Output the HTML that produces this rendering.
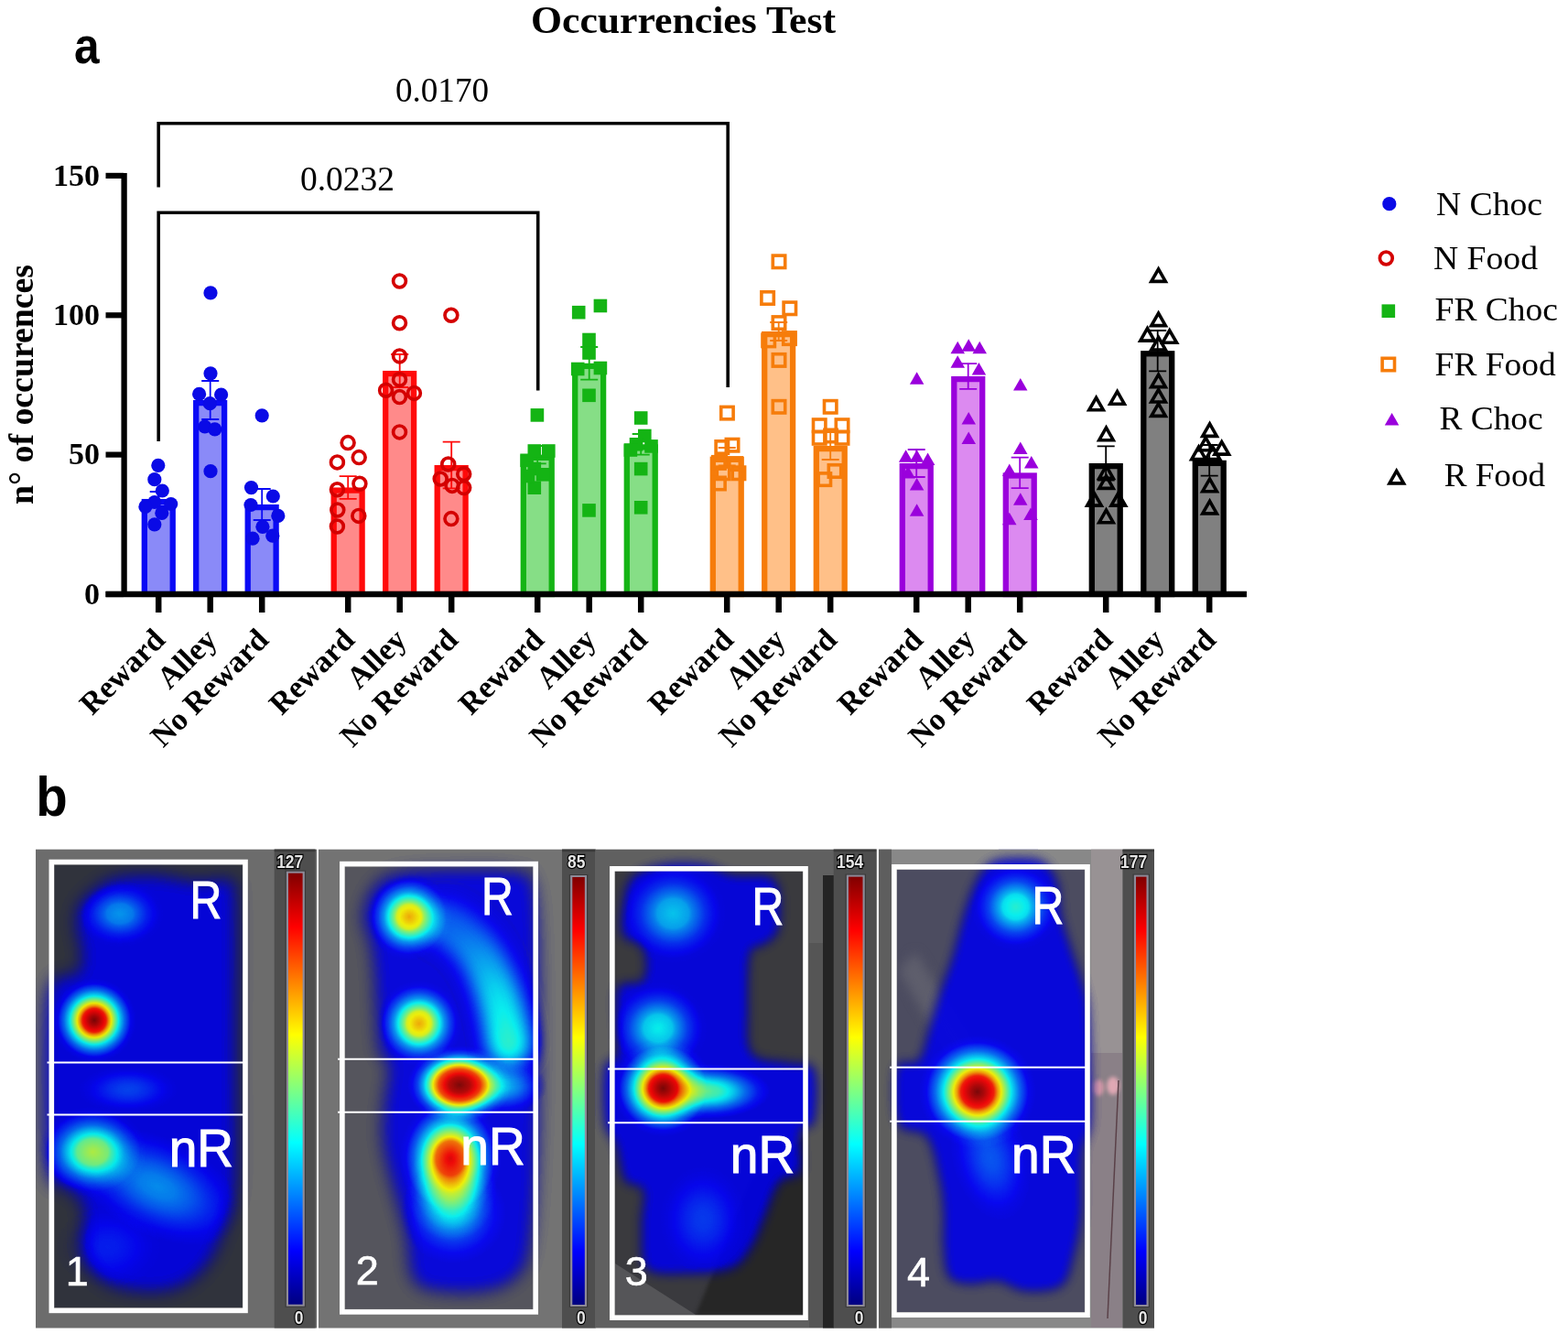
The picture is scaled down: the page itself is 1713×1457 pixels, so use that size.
<!DOCTYPE html>
<html><head><meta charset="utf-8"><title>Occurrencies Test</title>
<style>
html,body{margin:0;padding:0;background:#fff;}
body{width:1713px;height:1457px;overflow:hidden;}
svg{display:block;}
.serif{font-family:'Liberation Serif', 'Times New Roman', serif;}
.sans{font-family:'Liberation Sans', Arial, sans-serif;}
</style></head><body>
<svg width="1713" height="1457" viewBox="0 0 1713 1457">
<defs>
</defs>
<rect x="0" y="0" width="1713" height="1457" fill="#ffffff"/>
<text x="580" y="35.5" font-family="'Liberation Serif', 'Times New Roman', serif" font-weight="bold" font-size="42" textLength="333" lengthAdjust="spacingAndGlyphs">Occurrencies Test</text>
<text transform="translate(81,68.7) scale(0.886,1)" font-family="'Liberation Sans', Arial, sans-serif" font-weight="bold" font-size="56">a</text>
<line x1="135.6" y1="189" x2="135.6" y2="652" stroke="#000" stroke-width="6.3"/>
<line x1="115.5" y1="649.0" x2="135" y2="649.0" stroke="#000" stroke-width="6.2"/>
<text x="109" y="659.8" text-anchor="end" font-family="'Liberation Serif', 'Times New Roman', serif" font-weight="bold" font-size="34">0</text>
<line x1="115.5" y1="496.6" x2="135" y2="496.6" stroke="#000" stroke-width="6.2"/>
<text x="109" y="507.4" text-anchor="end" font-family="'Liberation Serif', 'Times New Roman', serif" font-weight="bold" font-size="34">50</text>
<line x1="115.5" y1="344.3" x2="135" y2="344.3" stroke="#000" stroke-width="6.2"/>
<text x="109" y="355.1" text-anchor="end" font-family="'Liberation Serif', 'Times New Roman', serif" font-weight="bold" font-size="34">100</text>
<line x1="115.5" y1="191.9" x2="135" y2="191.9" stroke="#000" stroke-width="6.2"/>
<text x="109" y="202.8" text-anchor="end" font-family="'Liberation Serif', 'Times New Roman', serif" font-weight="bold" font-size="34">150</text>
<text transform="translate(35.5,551) rotate(-90)" font-family="'Liberation Serif', 'Times New Roman', serif" font-weight="bold" font-size="38" textLength="262" lengthAdjust="spacingAndGlyphs">n° of occurences</text>
<rect x="157.8" y="548.1" width="30.9" height="100.8" fill="#8a8af8" stroke="#0a0af5" stroke-width="6.3"/>
<rect x="214.2" y="440.1" width="30.9" height="208.8" fill="#8a8af8" stroke="#0a0af5" stroke-width="6.3"/>
<rect x="270.7" y="554.1" width="30.9" height="94.8" fill="#8a8af8" stroke="#0a0af5" stroke-width="6.3"/>
<path d="M173.2,537.0V553.0M163.7,537.0H182.7M163.7,553.0H182.7" stroke="#0a0af5" stroke-width="1.8" fill="none"/>
<path d="M229.7,416.0V458.0M220.2,416.0H239.2M220.2,458.0H239.2" stroke="#0a0af5" stroke-width="1.8" fill="none"/>
<path d="M286.2,534.0V568.0M276.7,534.0H295.7M276.7,568.0H295.7" stroke="#0a0af5" stroke-width="1.8" fill="none"/>
<circle cx="172.8" cy="508.3" r="7.6" fill="#0a0ae6"/>
<circle cx="168.8" cy="523.7" r="7.6" fill="#0a0ae6"/>
<circle cx="177.3" cy="536.0" r="7.6" fill="#0a0ae6"/>
<circle cx="168.8" cy="548.5" r="7.6" fill="#0a0ae6"/>
<circle cx="158.9" cy="553.4" r="7.6" fill="#0a0ae6"/>
<circle cx="186.7" cy="550.5" r="7.6" fill="#0a0ae6"/>
<circle cx="176.8" cy="560.4" r="7.6" fill="#0a0ae6"/>
<circle cx="168.8" cy="572.8" r="7.6" fill="#0a0ae6"/>
<circle cx="230.0" cy="319.9" r="7.6" fill="#0a0ae6"/>
<circle cx="230.0" cy="407.8" r="7.6" fill="#0a0ae6"/>
<circle cx="217.6" cy="430.4" r="7.6" fill="#0a0ae6"/>
<circle cx="241.6" cy="431.0" r="7.6" fill="#0a0ae6"/>
<circle cx="229.3" cy="440.7" r="7.6" fill="#0a0ae6"/>
<circle cx="223.8" cy="466.0" r="7.6" fill="#0a0ae6"/>
<circle cx="234.7" cy="468.9" r="7.6" fill="#0a0ae6"/>
<circle cx="230.0" cy="514.7" r="7.6" fill="#0a0ae6"/>
<circle cx="286.2" cy="453.8" r="7.6" fill="#0a0ae6"/>
<circle cx="274.5" cy="532.6" r="7.6" fill="#0a0ae6"/>
<circle cx="298.3" cy="542.0" r="7.6" fill="#0a0ae6"/>
<circle cx="274.0" cy="551.5" r="7.6" fill="#0a0ae6"/>
<circle cx="303.8" cy="563.4" r="7.6" fill="#0a0ae6"/>
<circle cx="286.9" cy="575.3" r="7.6" fill="#0a0ae6"/>
<circle cx="276.0" cy="588.2" r="7.6" fill="#0a0ae6"/>
<circle cx="297.8" cy="585.2" r="7.6" fill="#0a0ae6"/>
<line x1="173.2" y1="649.0" x2="173.2" y2="669" stroke="#000" stroke-width="6.5"/>
<text transform="translate(182.2,700.7) rotate(-45)" text-anchor="end" font-family="'Liberation Serif', 'Times New Roman', serif" font-weight="bold" font-size="34">Reward</text>
<line x1="229.7" y1="649.0" x2="229.7" y2="669" stroke="#000" stroke-width="6.5"/>
<text transform="translate(238.7,700.7) rotate(-45)" text-anchor="end" font-family="'Liberation Serif', 'Times New Roman', serif" font-weight="bold" font-size="34">Alley</text>
<line x1="286.2" y1="649.0" x2="286.2" y2="669" stroke="#000" stroke-width="6.5"/>
<text transform="translate(295.2,700.7) rotate(-45)" text-anchor="end" font-family="'Liberation Serif', 'Times New Roman', serif" font-weight="bold" font-size="34">No Reward</text>
<rect x="364.7" y="535.6" width="30.9" height="113.3" fill="#ff8a8a" stroke="#ff0a0a" stroke-width="6.3"/>
<rect x="421.2" y="408.1" width="30.9" height="240.8" fill="#ff8a8a" stroke="#ff0a0a" stroke-width="6.3"/>
<rect x="477.7" y="511.1" width="30.9" height="137.8" fill="#ff8a8a" stroke="#ff0a0a" stroke-width="6.3"/>
<path d="M380.2,520.2V544.8M370.7,520.2H389.7M370.7,544.8H389.7" stroke="#ff0a0a" stroke-width="1.8" fill="none"/>
<path d="M436.7,387.0V423.0M427.2,387.0H446.2M427.2,423.0H446.2" stroke="#ff0a0a" stroke-width="1.8" fill="none"/>
<path d="M493.2,482.6V533.4M483.7,482.6H502.7M483.7,533.4H502.7" stroke="#ff0a0a" stroke-width="1.8" fill="none"/>
<circle cx="380.1" cy="483.6" r="6.9" fill="none" stroke="#d40000" stroke-width="3.7"/>
<circle cx="368.4" cy="504.9" r="6.9" fill="none" stroke="#d40000" stroke-width="3.7"/>
<circle cx="392.2" cy="499.6" r="6.9" fill="none" stroke="#d40000" stroke-width="3.7"/>
<circle cx="392.9" cy="528.3" r="6.9" fill="none" stroke="#d40000" stroke-width="3.7"/>
<circle cx="368.4" cy="534.7" r="6.9" fill="none" stroke="#d40000" stroke-width="3.7"/>
<circle cx="368.8" cy="557.0" r="6.9" fill="none" stroke="#d40000" stroke-width="3.7"/>
<circle cx="391.8" cy="563.4" r="6.9" fill="none" stroke="#d40000" stroke-width="3.7"/>
<circle cx="368.4" cy="575.0" r="6.9" fill="none" stroke="#d40000" stroke-width="3.7"/>
<circle cx="436.5" cy="307.0" r="6.9" fill="none" stroke="#d40000" stroke-width="3.7"/>
<circle cx="436.5" cy="352.8" r="6.9" fill="none" stroke="#d40000" stroke-width="3.7"/>
<circle cx="436.5" cy="388.9" r="6.9" fill="none" stroke="#d40000" stroke-width="3.7"/>
<circle cx="436.5" cy="414.5" r="6.9" fill="none" stroke="#d40000" stroke-width="3.7"/>
<circle cx="421.6" cy="426.2" r="6.9" fill="none" stroke="#d40000" stroke-width="3.7"/>
<circle cx="452.4" cy="429.4" r="6.9" fill="none" stroke="#d40000" stroke-width="3.7"/>
<circle cx="436.5" cy="433.6" r="6.9" fill="none" stroke="#d40000" stroke-width="3.7"/>
<circle cx="436.5" cy="471.9" r="6.9" fill="none" stroke="#d40000" stroke-width="3.7"/>
<circle cx="492.9" cy="344.3" r="6.9" fill="none" stroke="#d40000" stroke-width="3.7"/>
<circle cx="489.7" cy="507.0" r="6.9" fill="none" stroke="#d40000" stroke-width="3.7"/>
<circle cx="481.2" cy="523.0" r="6.9" fill="none" stroke="#d40000" stroke-width="3.7"/>
<circle cx="506.7" cy="517.7" r="6.9" fill="none" stroke="#d40000" stroke-width="3.7"/>
<circle cx="494.0" cy="530.4" r="6.9" fill="none" stroke="#d40000" stroke-width="3.7"/>
<circle cx="506.7" cy="532.6" r="6.9" fill="none" stroke="#d40000" stroke-width="3.7"/>
<circle cx="492.9" cy="566.6" r="6.9" fill="none" stroke="#d40000" stroke-width="3.7"/>
<line x1="380.2" y1="649.0" x2="380.2" y2="669" stroke="#000" stroke-width="6.5"/>
<text transform="translate(389.2,700.7) rotate(-45)" text-anchor="end" font-family="'Liberation Serif', 'Times New Roman', serif" font-weight="bold" font-size="34">Reward</text>
<line x1="436.7" y1="649.0" x2="436.7" y2="669" stroke="#000" stroke-width="6.5"/>
<text transform="translate(445.7,700.7) rotate(-45)" text-anchor="end" font-family="'Liberation Serif', 'Times New Roman', serif" font-weight="bold" font-size="34">Alley</text>
<line x1="493.2" y1="649.0" x2="493.2" y2="669" stroke="#000" stroke-width="6.5"/>
<text transform="translate(502.2,700.7) rotate(-45)" text-anchor="end" font-family="'Liberation Serif', 'Times New Roman', serif" font-weight="bold" font-size="34">No Reward</text>
<rect x="571.8" y="499.8" width="30.9" height="149.2" fill="#86de86" stroke="#14b414" stroke-width="6.3"/>
<rect x="628.2" y="399.9" width="30.9" height="249.0" fill="#86de86" stroke="#14b414" stroke-width="6.3"/>
<rect x="684.8" y="488.4" width="30.9" height="160.5" fill="#86de86" stroke="#14b414" stroke-width="6.3"/>
<path d="M587.2,487.0V506.4M577.7,487.0H596.7M577.7,506.4H596.7" stroke="#14b414" stroke-width="1.8" fill="none"/>
<path d="M643.7,379.0V414.6M634.2,379.0H653.2M634.2,414.6H653.2" stroke="#14b414" stroke-width="1.8" fill="none"/>
<path d="M700.2,474.0V496.6M690.7,474.0H709.7M690.7,496.6H709.7" stroke="#14b414" stroke-width="1.8" fill="none"/>
<rect x="579.6" y="446.1" width="14.6" height="14.6" fill="#14b414"/>
<rect x="576.5" y="485.2" width="14.6" height="14.6" fill="#14b414"/>
<rect x="592.0" y="485.2" width="14.6" height="14.6" fill="#14b414"/>
<rect x="568.3" y="495.5" width="14.6" height="14.6" fill="#14b414"/>
<rect x="576.5" y="504.7" width="14.6" height="14.6" fill="#14b414"/>
<rect x="585.7" y="511.0" width="14.6" height="14.6" fill="#14b414"/>
<rect x="576.5" y="525.4" width="14.6" height="14.6" fill="#14b414"/>
<rect x="569.7" y="512.7" width="14.6" height="14.6" fill="#14b414"/>
<rect x="624.9" y="333.9" width="14.6" height="14.6" fill="#14b414"/>
<rect x="648.6" y="326.7" width="14.6" height="14.6" fill="#14b414"/>
<rect x="636.2" y="363.7" width="14.6" height="14.6" fill="#14b414"/>
<rect x="636.2" y="378.2" width="14.6" height="14.6" fill="#14b414"/>
<rect x="623.9" y="395.7" width="14.6" height="14.6" fill="#14b414"/>
<rect x="648.6" y="394.7" width="14.6" height="14.6" fill="#14b414"/>
<rect x="636.2" y="424.5" width="14.6" height="14.6" fill="#14b414"/>
<rect x="636.2" y="550.1" width="14.6" height="14.6" fill="#14b414"/>
<rect x="692.9" y="449.2" width="14.6" height="14.6" fill="#14b414"/>
<rect x="697.0" y="468.7" width="14.6" height="14.6" fill="#14b414"/>
<rect x="687.7" y="478.0" width="14.6" height="14.6" fill="#14b414"/>
<rect x="704.2" y="480.1" width="14.6" height="14.6" fill="#14b414"/>
<rect x="681.6" y="484.2" width="14.6" height="14.6" fill="#14b414"/>
<rect x="692.9" y="504.8" width="14.6" height="14.6" fill="#14b414"/>
<rect x="692.9" y="547.0" width="14.6" height="14.6" fill="#14b414"/>
<line x1="587.2" y1="649.0" x2="587.2" y2="669" stroke="#000" stroke-width="6.5"/>
<text transform="translate(596.2,700.7) rotate(-45)" text-anchor="end" font-family="'Liberation Serif', 'Times New Roman', serif" font-weight="bold" font-size="34">Reward</text>
<line x1="643.7" y1="649.0" x2="643.7" y2="669" stroke="#000" stroke-width="6.5"/>
<text transform="translate(652.7,700.7) rotate(-45)" text-anchor="end" font-family="'Liberation Serif', 'Times New Roman', serif" font-weight="bold" font-size="34">Alley</text>
<line x1="700.2" y1="649.0" x2="700.2" y2="669" stroke="#000" stroke-width="6.5"/>
<text transform="translate(709.2,700.7) rotate(-45)" text-anchor="end" font-family="'Liberation Serif', 'Times New Roman', serif" font-weight="bold" font-size="34">No Reward</text>
<rect x="778.8" y="501.8" width="30.9" height="147.2" fill="#ffc088" stroke="#f67c0a" stroke-width="6.3"/>
<rect x="835.2" y="365.1" width="30.9" height="283.9" fill="#ffc088" stroke="#f67c0a" stroke-width="6.3"/>
<rect x="891.8" y="490.1" width="30.9" height="158.8" fill="#ffc088" stroke="#f67c0a" stroke-width="6.3"/>
<path d="M794.2,489.0V508.4M784.7,489.0H803.7M784.7,508.4H803.7" stroke="#f67c0a" stroke-width="1.8" fill="none"/>
<path d="M850.7,352.0V372.0M841.2,352.0H860.2M841.2,372.0H860.2" stroke="#f67c0a" stroke-width="1.8" fill="none"/>
<path d="M907.2,472.0V502.0M897.7,472.0H916.7M897.7,502.0H916.7" stroke="#f67c0a" stroke-width="1.8" fill="none"/>
<rect x="787.7" y="444.4" width="13.4" height="13.4" fill="none" stroke="#f67c0a" stroke-width="3.6"/>
<rect x="782.1" y="481.8" width="13.4" height="13.4" fill="none" stroke="#f67c0a" stroke-width="3.6"/>
<rect x="793.3" y="479.5" width="13.4" height="13.4" fill="none" stroke="#f67c0a" stroke-width="3.6"/>
<rect x="778.7" y="498.7" width="13.4" height="13.4" fill="none" stroke="#f67c0a" stroke-width="3.6"/>
<rect x="796.8" y="499.9" width="13.4" height="13.4" fill="none" stroke="#f67c0a" stroke-width="3.6"/>
<rect x="783.3" y="510.1" width="13.4" height="13.4" fill="none" stroke="#f67c0a" stroke-width="3.6"/>
<rect x="800.2" y="510.1" width="13.4" height="13.4" fill="none" stroke="#f67c0a" stroke-width="3.6"/>
<rect x="778.7" y="521.3" width="13.4" height="13.4" fill="none" stroke="#f67c0a" stroke-width="3.6"/>
<rect x="844.3" y="279.1" width="13.4" height="13.4" fill="none" stroke="#f67c0a" stroke-width="3.6"/>
<rect x="831.9" y="318.8" width="13.4" height="13.4" fill="none" stroke="#f67c0a" stroke-width="3.6"/>
<rect x="856.1" y="330.1" width="13.4" height="13.4" fill="none" stroke="#f67c0a" stroke-width="3.6"/>
<rect x="844.3" y="345.9" width="13.4" height="13.4" fill="none" stroke="#f67c0a" stroke-width="3.6"/>
<rect x="833.0" y="365.2" width="13.4" height="13.4" fill="none" stroke="#f67c0a" stroke-width="3.6"/>
<rect x="855.7" y="362.9" width="13.4" height="13.4" fill="none" stroke="#f67c0a" stroke-width="3.6"/>
<rect x="844.3" y="386.7" width="13.4" height="13.4" fill="none" stroke="#f67c0a" stroke-width="3.6"/>
<rect x="844.3" y="437.6" width="13.4" height="13.4" fill="none" stroke="#f67c0a" stroke-width="3.6"/>
<rect x="900.5" y="437.6" width="13.4" height="13.4" fill="none" stroke="#f67c0a" stroke-width="3.6"/>
<rect x="888.5" y="458.0" width="13.4" height="13.4" fill="none" stroke="#f67c0a" stroke-width="3.6"/>
<rect x="913.3" y="458.0" width="13.4" height="13.4" fill="none" stroke="#f67c0a" stroke-width="3.6"/>
<rect x="888.5" y="471.6" width="13.4" height="13.4" fill="none" stroke="#f67c0a" stroke-width="3.6"/>
<rect x="913.3" y="471.6" width="13.4" height="13.4" fill="none" stroke="#f67c0a" stroke-width="3.6"/>
<rect x="900.9" y="469.3" width="13.4" height="13.4" fill="none" stroke="#f67c0a" stroke-width="3.6"/>
<rect x="905.3" y="507.8" width="13.4" height="13.4" fill="none" stroke="#f67c0a" stroke-width="3.6"/>
<rect x="894.1" y="516.9" width="13.4" height="13.4" fill="none" stroke="#f67c0a" stroke-width="3.6"/>
<line x1="794.2" y1="649.0" x2="794.2" y2="669" stroke="#000" stroke-width="6.5"/>
<text transform="translate(803.2,700.7) rotate(-45)" text-anchor="end" font-family="'Liberation Serif', 'Times New Roman', serif" font-weight="bold" font-size="34">Reward</text>
<line x1="850.7" y1="649.0" x2="850.7" y2="669" stroke="#000" stroke-width="6.5"/>
<text transform="translate(859.7,700.7) rotate(-45)" text-anchor="end" font-family="'Liberation Serif', 'Times New Roman', serif" font-weight="bold" font-size="34">Alley</text>
<line x1="907.2" y1="649.0" x2="907.2" y2="669" stroke="#000" stroke-width="6.5"/>
<text transform="translate(916.2,700.7) rotate(-45)" text-anchor="end" font-family="'Liberation Serif', 'Times New Roman', serif" font-weight="bold" font-size="34">No Reward</text>
<rect x="985.8" y="509.1" width="30.9" height="139.8" fill="#dc8af0" stroke="#9a00dc" stroke-width="6.3"/>
<rect x="1042.3" y="414.1" width="30.9" height="234.8" fill="#dc8af0" stroke="#9a00dc" stroke-width="6.3"/>
<rect x="1098.8" y="519.5" width="30.9" height="129.5" fill="#dc8af0" stroke="#9a00dc" stroke-width="6.3"/>
<path d="M1001.2,491.0V521.0M991.7,491.0H1010.7M991.7,521.0H1010.7" stroke="#9a00dc" stroke-width="1.8" fill="none"/>
<path d="M1057.7,397.2V424.8M1048.2,397.2H1067.2M1048.2,424.8H1067.2" stroke="#9a00dc" stroke-width="1.8" fill="none"/>
<path d="M1114.2,499.6V533.2M1104.7,499.6H1123.7M1104.7,533.2H1123.7" stroke="#9a00dc" stroke-width="1.8" fill="none"/>
<polygon points="1001.6,406.2 1009.4,419.7 993.9,419.7" fill="#9a00dc"/>
<polygon points="989.6,491.2 997.4,504.7 981.9,504.7" fill="#9a00dc"/>
<polygon points="1001.6,491.2 1009.4,504.7 993.9,504.7" fill="#9a00dc"/>
<polygon points="1013.6,494.6 1021.4,508.1 1005.9,508.1" fill="#9a00dc"/>
<polygon points="1001.6,521.9 1009.4,535.4 993.9,535.4" fill="#9a00dc"/>
<polygon points="1001.6,550.3 1009.4,563.8 993.9,563.8" fill="#9a00dc"/>
<polygon points="992.0,508.9 999.8,522.4 984.2,522.4" fill="#9a00dc"/>
<polygon points="1046.2,372.8 1054.0,386.3 1038.5,386.3" fill="#9a00dc"/>
<polygon points="1058.2,370.2 1066.0,383.7 1050.5,383.7" fill="#9a00dc"/>
<polygon points="1070.2,372.8 1078.0,386.3 1062.5,386.3" fill="#9a00dc"/>
<polygon points="1046.2,388.2 1054.0,401.7 1038.5,401.7" fill="#9a00dc"/>
<polygon points="1069.4,395.9 1077.2,409.4 1061.7,409.4" fill="#9a00dc"/>
<polygon points="1058.2,449.9 1066.0,463.4 1050.5,463.4" fill="#9a00dc"/>
<polygon points="1058.2,471.4 1066.0,484.9 1050.5,484.9" fill="#9a00dc"/>
<polygon points="1114.8,413.1 1122.5,426.6 1107.0,426.6" fill="#9a00dc"/>
<polygon points="1114.8,482.6 1122.5,496.1 1107.0,496.1" fill="#9a00dc"/>
<polygon points="1126.8,497.9 1134.5,511.4 1119.0,511.4" fill="#9a00dc"/>
<polygon points="1102.8,506.6 1110.5,520.1 1095.0,520.1" fill="#9a00dc"/>
<polygon points="1114.8,538.3 1122.5,551.8 1107.0,551.8" fill="#9a00dc"/>
<polygon points="1102.8,559.8 1110.5,573.3 1095.0,573.3" fill="#9a00dc"/>
<polygon points="1126.0,554.6 1133.8,568.1 1118.2,568.1" fill="#9a00dc"/>
<line x1="1001.2" y1="649.0" x2="1001.2" y2="669" stroke="#000" stroke-width="6.5"/>
<text transform="translate(1010.2,700.7) rotate(-45)" text-anchor="end" font-family="'Liberation Serif', 'Times New Roman', serif" font-weight="bold" font-size="34">Reward</text>
<line x1="1057.7" y1="649.0" x2="1057.7" y2="669" stroke="#000" stroke-width="6.5"/>
<text transform="translate(1066.7,700.7) rotate(-45)" text-anchor="end" font-family="'Liberation Serif', 'Times New Roman', serif" font-weight="bold" font-size="34">Alley</text>
<line x1="1114.2" y1="649.0" x2="1114.2" y2="669" stroke="#000" stroke-width="6.5"/>
<text transform="translate(1123.2,700.7) rotate(-45)" text-anchor="end" font-family="'Liberation Serif', 'Times New Roman', serif" font-weight="bold" font-size="34">No Reward</text>
<rect x="1192.8" y="509.1" width="30.9" height="139.8" fill="#808080" stroke="#000000" stroke-width="6.3"/>
<rect x="1249.3" y="386.3" width="30.9" height="262.7" fill="#808080" stroke="#000000" stroke-width="6.3"/>
<rect x="1305.8" y="505.9" width="30.9" height="143.0" fill="#808080" stroke="#000000" stroke-width="6.3"/>
<path d="M1208.2,487.4V524.6M1198.7,487.4H1217.7M1198.7,524.6H1217.7" stroke="#000000" stroke-width="1.8" fill="none"/>
<path d="M1264.7,361.0V405.4M1255.2,361.0H1274.2M1255.2,405.4H1274.2" stroke="#000000" stroke-width="1.8" fill="none"/>
<path d="M1321.2,486.0V519.6M1311.7,486.0H1330.7M1311.7,519.6H1330.7" stroke="#000000" stroke-width="1.8" fill="none"/>
<polygon points="1197.6,434.3 1205.3,447.8 1189.8,447.8" fill="none" stroke="#000000" stroke-width="3.6" stroke-linejoin="miter"/>
<polygon points="1220.6,427.7 1228.3,441.2 1212.8,441.2" fill="none" stroke="#000000" stroke-width="3.6" stroke-linejoin="miter"/>
<polygon points="1208.5,467.2 1216.2,480.7 1200.8,480.7" fill="none" stroke="#000000" stroke-width="3.6" stroke-linejoin="miter"/>
<polygon points="1208.5,508.9 1216.2,522.4 1200.8,522.4" fill="none" stroke="#000000" stroke-width="3.6" stroke-linejoin="miter"/>
<polygon points="1208.5,519.9 1216.2,533.4 1200.8,533.4" fill="none" stroke="#000000" stroke-width="3.6" stroke-linejoin="miter"/>
<polygon points="1195.4,538.6 1203.2,552.1 1187.7,552.1" fill="none" stroke="#000000" stroke-width="3.6" stroke-linejoin="miter"/>
<polygon points="1221.7,538.6 1229.5,552.1 1214.0,552.1" fill="none" stroke="#000000" stroke-width="3.6" stroke-linejoin="miter"/>
<polygon points="1208.5,557.2 1216.2,570.7 1200.8,570.7" fill="none" stroke="#000000" stroke-width="3.6" stroke-linejoin="miter"/>
<polygon points="1265.6,293.9 1273.3,307.4 1257.8,307.4" fill="none" stroke="#000000" stroke-width="3.6" stroke-linejoin="miter"/>
<polygon points="1265.6,342.1 1273.3,355.6 1257.8,355.6" fill="none" stroke="#000000" stroke-width="3.6" stroke-linejoin="miter"/>
<polygon points="1253.5,358.6 1261.2,372.1 1245.8,372.1" fill="none" stroke="#000000" stroke-width="3.6" stroke-linejoin="miter"/>
<polygon points="1277.7,360.8 1285.5,374.3 1270.0,374.3" fill="none" stroke="#000000" stroke-width="3.6" stroke-linejoin="miter"/>
<polygon points="1265.6,368.5 1273.3,382.0 1257.8,382.0" fill="none" stroke="#000000" stroke-width="3.6" stroke-linejoin="miter"/>
<polygon points="1265.6,409.1 1273.3,422.6 1257.8,422.6" fill="none" stroke="#000000" stroke-width="3.6" stroke-linejoin="miter"/>
<polygon points="1265.6,425.5 1273.3,439.0 1257.8,439.0" fill="none" stroke="#000000" stroke-width="3.6" stroke-linejoin="miter"/>
<polygon points="1265.6,440.9 1273.3,454.4 1257.8,454.4" fill="none" stroke="#000000" stroke-width="3.6" stroke-linejoin="miter"/>
<polygon points="1321.6,462.9 1329.3,476.4 1313.8,476.4" fill="none" stroke="#000000" stroke-width="3.6" stroke-linejoin="miter"/>
<polygon points="1317.2,478.2 1325.0,491.7 1309.5,491.7" fill="none" stroke="#000000" stroke-width="3.6" stroke-linejoin="miter"/>
<polygon points="1334.7,482.6 1342.5,496.1 1327.0,496.1" fill="none" stroke="#000000" stroke-width="3.6" stroke-linejoin="miter"/>
<polygon points="1309.5,488.1 1317.2,501.6 1301.8,501.6" fill="none" stroke="#000000" stroke-width="3.6" stroke-linejoin="miter"/>
<polygon points="1324.9,488.1 1332.7,501.6 1317.2,501.6" fill="none" stroke="#000000" stroke-width="3.6" stroke-linejoin="miter"/>
<polygon points="1321.6,523.2 1329.3,536.7 1313.8,536.7" fill="none" stroke="#000000" stroke-width="3.6" stroke-linejoin="miter"/>
<polygon points="1321.6,547.4 1329.3,560.9 1313.8,560.9" fill="none" stroke="#000000" stroke-width="3.6" stroke-linejoin="miter"/>
<line x1="1208.2" y1="649.0" x2="1208.2" y2="669" stroke="#000" stroke-width="6.5"/>
<text transform="translate(1217.2,700.7) rotate(-45)" text-anchor="end" font-family="'Liberation Serif', 'Times New Roman', serif" font-weight="bold" font-size="34">Reward</text>
<line x1="1264.7" y1="649.0" x2="1264.7" y2="669" stroke="#000" stroke-width="6.5"/>
<text transform="translate(1273.7,700.7) rotate(-45)" text-anchor="end" font-family="'Liberation Serif', 'Times New Roman', serif" font-weight="bold" font-size="34">Alley</text>
<line x1="1321.2" y1="649.0" x2="1321.2" y2="669" stroke="#000" stroke-width="6.5"/>
<text transform="translate(1330.2,700.7) rotate(-45)" text-anchor="end" font-family="'Liberation Serif', 'Times New Roman', serif" font-weight="bold" font-size="34">No Reward</text>
<line x1="115.5" y1="649.0" x2="1362" y2="649.0" stroke="#000" stroke-width="6.5"/>
<path d="M173.2,204.5V134.7H795.2V423" stroke="#000" stroke-width="3.6" fill="none"/>
<path d="M173.2,482V232.3H587.7V426.5" stroke="#000" stroke-width="3.6" fill="none"/>
<text x="432" y="111" font-family="'Liberation Serif', 'Times New Roman', serif" font-size="37" textLength="102" lengthAdjust="spacingAndGlyphs">0.0170</text>
<text x="328" y="208" font-family="'Liberation Serif', 'Times New Roman', serif" font-size="37" textLength="103" lengthAdjust="spacingAndGlyphs">0.0232</text>
<circle cx="1517.8" cy="222.7" r="7.6" fill="#0a0ae6"/>
<text x="1569" y="234.5" font-family="'Liberation Serif', 'Times New Roman', serif" font-size="35" textLength="116" lengthAdjust="spacingAndGlyphs">N Choc</text>
<circle cx="1514.3" cy="282.0" r="6.9" fill="none" stroke="#d40000" stroke-width="3.7"/>
<text x="1566" y="293.9" font-family="'Liberation Serif', 'Times New Roman', serif" font-size="35" textLength="114" lengthAdjust="spacingAndGlyphs">N Food</text>
<rect x="1509.5" y="332.4" width="14.6" height="14.6" fill="#14b414"/>
<text x="1567.6" y="350" font-family="'Liberation Serif', 'Times New Roman', serif" font-size="35" textLength="134.4" lengthAdjust="spacingAndGlyphs">FR Choc</text>
<rect x="1510.1" y="391.3" width="13.4" height="13.4" fill="none" stroke="#f67c0a" stroke-width="3.6"/>
<text x="1567.6" y="409.5" font-family="'Liberation Serif', 'Times New Roman', serif" font-size="35" textLength="132" lengthAdjust="spacingAndGlyphs">FR Food</text>
<polygon points="1520.6,450.9 1528.3,464.4 1512.8,464.4" fill="#9a00dc"/>
<text x="1572.6" y="469" font-family="'Liberation Serif', 'Times New Roman', serif" font-size="35" textLength="113" lengthAdjust="spacingAndGlyphs">R Choc</text>
<polygon points="1525.7,514.4 1533.5,527.9 1518.0,527.9" fill="none" stroke="#000000" stroke-width="3.6" stroke-linejoin="miter"/>
<text x="1577.7" y="531.4" font-family="'Liberation Serif', 'Times New Roman', serif" font-size="35" textLength="110.3" lengthAdjust="spacingAndGlyphs">R Food</text>
<text transform="translate(39.2,891.4) scale(0.91,1)" font-family="'Liberation Sans', Arial, sans-serif" font-weight="bold" font-size="62">b</text>
<defs>
<filter id="jet" x="0" y="0" width="100%" height="100%" color-interpolation-filters="sRGB">
<feColorMatrix type="matrix" values="1 0 0 0 0  0 1 0 0 0  0 0 1 0 0  1 0 0 0 0"/>
<feComponentTransfer><feFuncR type="table" tableValues="0 0 0 0 0 0 0 0.25 0.5 0.75 1 1 1 1 1 0.75 0.5"/><feFuncG type="table" tableValues="0 0 0 0.25 0.5 0.75 1 1 1 1 1 0.75 0.5 0.25 0 0 0"/><feFuncB type="table" tableValues="0.5 0.75 1 1 1 1 1 0.75 0.5 0.25 0 0 0 0 0 0 0"/><feFuncA type="table" tableValues="0 0.9 0.9 0.9 0.9 0.9 0.9 0.9 0.9 0.9 0.9"/></feComponentTransfer>
</filter>
<filter id="bblur" x="-20%" y="-20%" width="140%" height="140%" color-interpolation-filters="sRGB"><feGaussianBlur stdDeviation="9"/></filter>
<filter id="bblur6" x="-20%" y="-20%" width="140%" height="140%" color-interpolation-filters="sRGB"><feGaussianBlur stdDeviation="6"/></filter>
<filter id="pblur" filterUnits="userSpaceOnUse" x="300" y="900" width="400" height="560" color-interpolation-filters="sRGB"><feGaussianBlur stdDeviation="10"/></filter>
<linearGradient id="streak" x1="0" y1="0" x2="0" y2="1"><stop offset="0" stop-color="rgb(55,55,55)"/><stop offset="0.55" stop-color="rgb(90,90,90)"/><stop offset="1" stop-color="rgb(108,108,108)"/></linearGradient>
<filter id="sblur" x="-20%" y="-20%" width="140%" height="140%" color-interpolation-filters="sRGB"><feGaussianBlur stdDeviation="2"/></filter>
<radialGradient id="spot"><stop offset="0" stop-color="#fff" stop-opacity="1.0"/><stop offset="0.109" stop-color="#fff" stop-opacity="0.943"/><stop offset="0.283" stop-color="#fff" stop-opacity="0.83"/><stop offset="0.348" stop-color="#fff" stop-opacity="0.682"/><stop offset="0.413" stop-color="#fff" stop-opacity="0.574"/><stop offset="0.5" stop-color="#fff" stop-opacity="0.432"/><stop offset="0.587" stop-color="#fff" stop-opacity="0.29"/><stop offset="0.717" stop-color="#fff" stop-opacity="0.148"/><stop offset="0.87" stop-color="#fff" stop-opacity="0.023"/><stop offset="1.0" stop-color="#fff" stop-opacity="0"/></radialGradient>
<radialGradient id="soft"><stop offset="0" stop-color="#fff" stop-opacity="1.0"/><stop offset="0.2" stop-color="#fff" stop-opacity="0.9"/><stop offset="0.4" stop-color="#fff" stop-opacity="0.66"/><stop offset="0.6" stop-color="#fff" stop-opacity="0.36"/><stop offset="0.8" stop-color="#fff" stop-opacity="0.12"/><stop offset="1.0" stop-color="#fff" stop-opacity="0"/></radialGradient>
<radialGradient id="hot2"><stop offset="0" stop-color="#fff" stop-opacity="1.0"/><stop offset="0.2" stop-color="#fff" stop-opacity="0.93"/><stop offset="0.4" stop-color="#fff" stop-opacity="0.78"/><stop offset="0.5" stop-color="#fff" stop-opacity="0.6"/><stop offset="0.6" stop-color="#fff" stop-opacity="0.38"/><stop offset="0.7" stop-color="#fff" stop-opacity="0.22"/><stop offset="0.8" stop-color="#fff" stop-opacity="0.1"/><stop offset="0.9" stop-color="#fff" stop-opacity="0.03"/><stop offset="1.0" stop-color="#fff" stop-opacity="0"/></radialGradient>
<linearGradient id="cbar" x1="0" y1="0" x2="0" y2="1">
<stop offset="0" stop-color="#800000"/><stop offset="0.125" stop-color="#ff0000"/><stop offset="0.25" stop-color="#ff8000"/>
<stop offset="0.375" stop-color="#ffff00"/><stop offset="0.5" stop-color="#80ff80"/><stop offset="0.625" stop-color="#00ffff"/>
<stop offset="0.75" stop-color="#0080ff"/><stop offset="0.875" stop-color="#0000ff"/><stop offset="1" stop-color="#000080"/></linearGradient>
</defs>
<g>
<rect x="39" y="927.7" width="307.2" height="522.8" fill="#6c6c6c"/>
<rect x="59.5" y="944.7" width="205.3" height="483.5" fill="#30333c"/>
<g filter="url(#jet)">
<rect x="39" y="927.7" width="260.7" height="522.8" fill="#000"/>
<path d="M98.0,975.0C104.7,969.7 113.0,961.3 125.0,958.0C137.0,954.7 155.0,954.3 170.0,955.0C185.0,955.7 201.7,961.2 215.0,962.0C228.3,962.8 242.7,956.2 250.0,960.0C257.3,963.8 257.5,953.3 259.0,985.0C260.5,1016.7 259.0,1099.2 259.0,1150.0C259.0,1200.8 260.8,1259.2 259.0,1290.0C257.2,1320.8 252.8,1320.3 248.0,1335.0C243.2,1349.7 238.0,1366.3 230.0,1378.0C222.0,1389.7 211.7,1399.3 200.0,1405.0C188.3,1410.7 174.2,1412.5 160.0,1412.0C145.8,1411.5 126.3,1409.0 115.0,1402.0C103.7,1395.0 96.2,1383.7 92.0,1370.0C87.8,1356.3 92.8,1331.7 90.0,1320.0C87.2,1308.3 81.3,1305.8 75.0,1300.0C68.7,1294.2 56.7,1301.7 52.0,1285.0C47.3,1268.3 47.5,1230.8 47.0,1200.0C46.5,1169.2 46.8,1122.0 49.0,1100.0C51.2,1078.0 54.2,1074.3 60.0,1068.0C65.8,1061.7 79.3,1066.7 84.0,1062.0C88.7,1057.3 88.3,1048.3 88.0,1040.0C87.7,1031.7 82.5,1020.3 82.0,1012.0C81.5,1003.7 82.3,996.2 85.0,990.0C87.7,983.8 91.3,980.3 98.0,975.0Z" fill="rgb(26,26,26)" filter="url(#bblur)"/>
<ellipse cx="131" cy="998" rx="50" ry="38" fill="url(#spot)" opacity="0.200"/>
<ellipse cx="140" cy="1190" rx="55" ry="26" fill="url(#soft)" opacity="0.100"/>
<ellipse cx="172" cy="1296" rx="100" ry="54" fill="url(#soft)" opacity="0.189" transform="rotate(25 172 1296)"/>
<ellipse cx="118" cy="1362" rx="60" ry="46" fill="url(#soft)" opacity="0.056"/>
<ellipse cx="103" cy="1114.4" rx="46" ry="46" fill="url(#spot)" opacity="1.000"/>
<ellipse cx="101" cy="1258" rx="60" ry="50" fill="url(#spot)" opacity="0.500"/>
</g>
<rect x="56.3" y="941.5" width="211.70000000000002" height="489.9" fill="none" stroke="#fff" stroke-width="5.6"/>
<line x1="51.5" y1="1160.5" x2="266.8" y2="1160.5" stroke="#fff" stroke-width="2"/>
<line x1="51.5" y1="1217.5" x2="266.8" y2="1217.5" stroke="#fff" stroke-width="2"/>
<rect x="299.7" y="927.7" width="44.80000000000001" height="522.8" fill="#4e4e4e"/>
<rect x="299.7" y="927.7" width="44.80000000000001" height="2.5" fill="#3a3a3a"/>
<rect x="311.5" y="950.7" width="22.600000000000023" height="477.0" fill="#3a3a3a"/>
<rect x="312.8" y="951.7" width="20.00000000000002" height="475.0" fill="#8e8a98"/>
<rect x="315" y="953.7" width="15.600000000000023" height="471.0" fill="url(#cbar)"/>
<text transform="translate(331.2,948) scale(0.87,1)" text-anchor="end" font-family="'Liberation Sans', Arial, sans-serif" font-weight="bold" font-size="20" fill="#e6e6e6" stroke="#000" stroke-width="2.6" paint-order="stroke">127</text>
<text transform="translate(331.4,1445.5) scale(0.87,1)" text-anchor="end" font-family="'Liberation Sans', Arial, sans-serif" font-weight="bold" font-size="20" fill="#e6e6e6" stroke="#000" stroke-width="2.6" paint-order="stroke">0</text>
<text transform="translate(207.4,1003) scale(0.83,1)" font-family="'Liberation Sans', Arial, sans-serif" font-size="58" fill="#fff" stroke="#fff" stroke-width="1.1">R</text>
<text transform="translate(184.7,1273.6) scale(0.95,1)" font-family="'Liberation Sans', Arial, sans-serif" font-size="58" fill="#fff" stroke="#fff" stroke-width="1.1">nR</text>
<text x="71.8" y="1403.5" font-family="'Liberation Sans', Arial, sans-serif" font-size="45" fill="#fff" stroke="#fff" stroke-width="0.6">1</text>
</g>
<g>
<rect x="348" y="927.7" width="303" height="522.8" fill="#737373"/>
<rect x="377" y="946.8" width="205" height="482.9000000000001" fill="#55555d"/>
<g filter="url(#jet)">
<rect x="348" y="927.7" width="266" height="522.8" fill="#000"/>
<path d="M396.0,1000.0C397.0,989.3 402.7,974.0 410.0,966.0C417.3,958.0 425.0,954.8 440.0,952.0C455.0,949.2 480.0,949.2 500.0,949.0C520.0,948.8 546.0,947.5 560.0,951.0C574.0,954.5 579.0,945.2 584.0,970.0C589.0,994.8 589.3,1053.3 590.0,1100.0C590.7,1146.7 589.7,1206.7 588.0,1250.0C586.3,1293.3 583.8,1335.8 580.0,1360.0C576.2,1384.2 572.5,1386.7 565.0,1395.0C557.5,1403.3 547.5,1407.2 535.0,1410.0C522.5,1412.8 503.8,1413.7 490.0,1412.0C476.2,1410.3 460.0,1411.2 452.0,1400.0C444.0,1388.8 447.3,1368.0 442.0,1345.0C436.7,1322.0 424.0,1283.7 420.0,1262.0C416.0,1240.3 417.3,1231.2 418.0,1215.0C418.7,1198.8 424.7,1175.8 424.0,1165.0C423.3,1154.2 416.3,1160.8 414.0,1150.0C411.7,1139.2 411.0,1115.0 410.0,1100.0C409.0,1085.0 409.0,1071.7 408.0,1060.0C407.0,1048.3 406.0,1040.0 404.0,1030.0C402.0,1020.0 395.0,1010.7 396.0,1000.0Z" fill="rgb(26,26,26)" filter="url(#bblur)"/>
<path d="M485,1008 Q540,1030 556,1140" fill="none" stroke="url(#streak)" stroke-width="46" stroke-linecap="round" filter="url(#pblur)"/>
<ellipse cx="548" cy="1186" rx="50" ry="30" fill="url(#soft)" opacity="0.244"/>
<ellipse cx="495" cy="1325" rx="58" ry="55" fill="url(#soft)" opacity="0.200"/>
<ellipse cx="447" cy="1001.4" rx="47" ry="47" fill="url(#spot)" opacity="0.667"/>
<ellipse cx="457.8" cy="1117.9" rx="47" ry="47" fill="url(#spot)" opacity="0.667"/>
<ellipse cx="493" cy="1300" rx="50" ry="55" fill="url(#soft)" opacity="0.289"/>
<ellipse cx="492" cy="1265" rx="56" ry="66" fill="url(#spot)" opacity="0.878"/>
<ellipse cx="502" cy="1185" rx="57" ry="43" fill="url(#hot2)" opacity="1.000"/>
</g>
<rect x="373.8" y="943.5999999999999" width="211.4" height="489.30000000000007" fill="none" stroke="#fff" stroke-width="5.6"/>
<line x1="369" y1="1156.8" x2="584" y2="1156.8" stroke="#fff" stroke-width="2"/>
<line x1="369" y1="1214.8" x2="584" y2="1214.8" stroke="#fff" stroke-width="2"/>
<rect x="614" y="927.7" width="36.5" height="522.8" fill="#4e4e4e"/>
<rect x="614" y="927.7" width="36.5" height="2.5" fill="#3a3a3a"/>
<rect x="621.8" y="955" width="20.5" height="473" fill="#3a3a3a"/>
<rect x="623.0999999999999" y="956" width="17.9" height="471" fill="#8e8a98"/>
<rect x="625.3" y="958" width="13.5" height="467" fill="url(#cbar)"/>
<text transform="translate(639.4,948) scale(0.87,1)" text-anchor="end" font-family="'Liberation Sans', Arial, sans-serif" font-weight="bold" font-size="20" fill="#e6e6e6" stroke="#000" stroke-width="2.6" paint-order="stroke">85</text>
<text transform="translate(639.6,1445.5) scale(0.87,1)" text-anchor="end" font-family="'Liberation Sans', Arial, sans-serif" font-weight="bold" font-size="20" fill="#e6e6e6" stroke="#000" stroke-width="2.6" paint-order="stroke">0</text>
<text transform="translate(525.9,998.8) scale(0.83,1)" font-family="'Liberation Sans', Arial, sans-serif" font-size="58" fill="#fff" stroke="#fff" stroke-width="1.1">R</text>
<text transform="translate(503.3,1272) scale(0.95,1)" font-family="'Liberation Sans', Arial, sans-serif" font-size="58" fill="#fff" stroke="#fff" stroke-width="1.1">nR</text>
<text x="388.8" y="1403.4" font-family="'Liberation Sans', Arial, sans-serif" font-size="45" fill="#fff" stroke="#fff" stroke-width="0.6">2</text>
</g>
<g>
<rect x="650.5" y="927.7" width="307.70000000000005" height="522.8" fill="#606060"/>
<rect x="884" y="1030" width="15" height="420" fill="#555555"/><rect x="899" y="956" width="12" height="494.5" fill="#242424"/>
<rect x="672" y="952" width="204.79999999999995" height="484" fill="#3a3a3e"/>
<path d="M820,1290 L880,1240 L880,1436 L760,1436 Z" fill="#262626" filter="url(#sblur)"/>
<path d="M672,1380 L760,1436 L672,1436 Z" fill="#555558"/>
<g filter="url(#jet)">
<rect x="650.5" y="927.7" width="260.20000000000005" height="522.8" fill="#000"/>
<path d="M680.0,990.0C681.7,979.3 682.5,965.7 690.0,958.0C697.5,950.3 711.7,946.3 725.0,944.0C738.3,941.7 757.5,942.2 770.0,944.0C782.5,945.8 788.3,952.8 800.0,955.0C811.7,957.2 831.3,953.7 840.0,957.0C848.7,960.3 850.3,964.8 852.0,975.0C853.7,985.2 853.3,1008.2 850.0,1018.0C846.7,1027.8 837.0,1030.0 832.0,1034.0C827.0,1038.0 822.3,1031.0 820.0,1042.0C817.7,1053.0 817.7,1082.0 818.0,1100.0C818.3,1118.0 815.0,1140.0 822.0,1150.0C829.0,1160.0 848.7,1157.0 860.0,1160.0C871.3,1163.0 885.0,1157.2 890.0,1168.0C895.0,1178.8 892.5,1213.7 890.0,1225.0C887.5,1236.3 877.5,1226.8 875.0,1236.0C872.5,1245.2 878.8,1270.7 875.0,1280.0C871.2,1289.3 858.5,1283.7 852.0,1292.0C845.5,1300.3 841.0,1318.3 836.0,1330.0C831.0,1341.7 828.0,1352.7 822.0,1362.0C816.0,1371.3 812.0,1381.0 800.0,1386.0C788.0,1391.0 765.7,1392.0 750.0,1392.0C734.3,1392.0 714.3,1394.7 706.0,1386.0C697.7,1377.3 700.7,1354.3 700.0,1340.0C699.3,1325.7 705.0,1308.3 702.0,1300.0C699.0,1291.7 687.0,1298.3 682.0,1290.0C677.0,1281.7 675.7,1260.7 672.0,1250.0C668.3,1239.3 662.0,1240.0 660.0,1226.0C658.0,1212.0 657.7,1178.7 660.0,1166.0C662.3,1153.3 671.7,1164.3 674.0,1150.0C676.3,1135.7 669.3,1093.3 674.0,1080.0C678.7,1066.7 697.3,1077.3 702.0,1070.0C706.7,1062.7 705.7,1044.0 702.0,1036.0C698.3,1028.0 683.7,1029.7 680.0,1022.0C676.3,1014.3 678.3,1000.7 680.0,990.0Z" fill="rgb(26,26,26)" filter="url(#bblur6)"/>
<ellipse cx="735.3" cy="997.7" rx="60" ry="56" fill="url(#spot)" opacity="0.256"/>
<ellipse cx="718.9" cy="1123" rx="55" ry="52" fill="url(#spot)" opacity="0.311"/>
<ellipse cx="768" cy="1332" rx="48" ry="60" fill="url(#soft)" opacity="0.089"/>
<ellipse cx="772" cy="1192" rx="70" ry="30" fill="url(#soft)" opacity="0.411"/>
<ellipse cx="724.4" cy="1188.6" rx="55" ry="53" fill="url(#spot)" opacity="1.000"/>
</g>
<rect x="668.8" y="948.8" width="211.19999999999996" height="490.4" fill="none" stroke="#fff" stroke-width="5.6"/>
<line x1="664" y1="1167.6" x2="878.8" y2="1167.6" stroke="#fff" stroke-width="2"/>
<line x1="664" y1="1226.2" x2="878.8" y2="1226.2" stroke="#fff" stroke-width="2"/>
<rect x="910.7" y="927.7" width="46.799999999999955" height="522.8" fill="#4e4e4e"/>
<rect x="910.7" y="927.7" width="46.799999999999955" height="2.5" fill="#3a3a3a"/>
<rect x="923.5" y="954.6" width="22.5" height="473.4" fill="#3a3a3a"/>
<rect x="924.8" y="955.6" width="19.9" height="471.4" fill="#8e8a98"/>
<rect x="927" y="957.6" width="15.5" height="467.4" fill="url(#cbar)"/>
<text transform="translate(943.1,948) scale(0.87,1)" text-anchor="end" font-family="'Liberation Sans', Arial, sans-serif" font-weight="bold" font-size="20" fill="#e6e6e6" stroke="#000" stroke-width="2.6" paint-order="stroke">154</text>
<text transform="translate(943.3,1445.5) scale(0.87,1)" text-anchor="end" font-family="'Liberation Sans', Arial, sans-serif" font-weight="bold" font-size="20" fill="#e6e6e6" stroke="#000" stroke-width="2.6" paint-order="stroke">0</text>
<text transform="translate(821.6,1009.6) scale(0.83,1)" font-family="'Liberation Sans', Arial, sans-serif" font-size="58" fill="#fff" stroke="#fff" stroke-width="1.1">R</text>
<text transform="translate(797.8,1281) scale(0.95,1)" font-family="'Liberation Sans', Arial, sans-serif" font-size="58" fill="#fff" stroke="#fff" stroke-width="1.1">nR</text>
<text x="682.8" y="1403.5" font-family="'Liberation Sans', Arial, sans-serif" font-size="45" fill="#fff" stroke="#fff" stroke-width="0.6">3</text>
</g>
<g>
<rect x="959.8" y="927.7" width="301.20000000000005" height="522.8" fill="#888888"/>
<rect x="1192" y="927.7" width="34" height="230" fill="#989294"/>
<rect x="1192" y="1150" width="34" height="300" fill="#8a8087"/>
<ellipse cx="1200" cy="1188" rx="6" ry="9" fill="#d89aa8" filter="url(#sblur)"/>
<ellipse cx="1216" cy="1186" rx="7" ry="10" fill="#e0a8b4" filter="url(#sblur)"/>
<path d="M1222,1180 L1210,1440" stroke="#5a4048" stroke-width="1.5"/>
<rect x="980" y="950" width="204.79999999999995" height="483" fill="#4c4c60"/>
<path d="M982,1060 L1040,1160 L1070,1150 L1000,1040 Z" fill="#5e5e6c" filter="url(#bblur6)"/>
<rect x="960" y="927.7" width="14" height="522.8" fill="#5e5e5e"/>
<g filter="url(#jet)">
<rect x="959.8" y="927.7" width="266.70000000000005" height="522.8" fill="#000"/>
<path d="M1052.0,1000.0C1056.3,986.2 1061.0,971.7 1066.0,962.0C1071.0,952.3 1074.7,946.2 1082.0,942.0C1089.3,937.8 1100.3,937.2 1110.0,937.0C1119.7,936.8 1132.3,936.3 1140.0,941.0C1147.7,945.7 1152.7,955.2 1156.0,965.0C1159.3,974.8 1157.3,987.5 1160.0,1000.0C1162.7,1012.5 1168.3,1028.3 1172.0,1040.0C1175.7,1051.7 1179.2,1060.0 1182.0,1070.0C1184.8,1080.0 1187.3,1084.2 1189.0,1100.0C1190.7,1115.8 1191.5,1143.8 1192.0,1165.0C1192.5,1186.2 1193.5,1211.2 1192.0,1227.0C1190.5,1242.8 1184.7,1243.7 1183.0,1260.0C1181.3,1276.3 1183.5,1306.7 1182.0,1325.0C1180.5,1343.3 1177.7,1356.7 1174.0,1370.0C1170.3,1383.3 1169.0,1398.2 1160.0,1405.0C1151.0,1411.8 1131.7,1411.8 1120.0,1411.0C1108.3,1410.2 1100.0,1401.3 1090.0,1400.0C1080.0,1398.7 1069.0,1403.8 1060.0,1403.0C1051.0,1402.2 1041.0,1402.2 1036.0,1395.0C1031.0,1387.8 1031.0,1371.7 1030.0,1360.0C1029.0,1348.3 1030.7,1336.7 1030.0,1325.0C1029.3,1313.3 1029.0,1303.8 1026.0,1290.0C1023.0,1276.2 1019.5,1252.3 1012.0,1242.0C1004.5,1231.7 986.5,1240.8 981.0,1228.0C975.5,1215.2 975.3,1176.7 979.0,1165.0C982.7,1153.3 997.2,1164.7 1003.0,1158.0C1008.8,1151.3 1010.2,1137.2 1014.0,1125.0C1017.8,1112.8 1021.7,1098.3 1026.0,1085.0C1030.3,1071.7 1035.7,1059.2 1040.0,1045.0C1044.3,1030.8 1047.7,1013.8 1052.0,1000.0Z" fill="rgb(26,26,26)" filter="url(#bblur6)"/>
<ellipse cx="1082" cy="1265" rx="42" ry="70" fill="url(#soft)" opacity="0.122" transform="rotate(-15 1082 1265)"/>
<ellipse cx="1109.7" cy="990.5" rx="50" ry="48" fill="url(#spot)" opacity="0.344"/>
<ellipse cx="1067.8" cy="1192.5" rx="64" ry="62" fill="url(#spot)" opacity="1.000"/>
</g>
<rect x="976.8" y="946.8" width="211.19999999999996" height="489.4" fill="none" stroke="#fff" stroke-width="5.6"/>
<line x1="972" y1="1165.7" x2="1186.8" y2="1165.7" stroke="#fff" stroke-width="2"/>
<line x1="972" y1="1224.7" x2="1186.8" y2="1224.7" stroke="#fff" stroke-width="2"/>
<rect x="1226.5" y="927.7" width="34.5" height="522.8" fill="#4e4e4e"/>
<rect x="1226.5" y="927.7" width="34.5" height="2.5" fill="#3a3a3a"/>
<rect x="1237.5" y="954.6" width="18.5" height="473.4" fill="#3a3a3a"/>
<rect x="1238.8" y="955.6" width="15.9" height="471.4" fill="#8e8a98"/>
<rect x="1241" y="957.6" width="11.5" height="467.4" fill="url(#cbar)"/>
<text transform="translate(1253.1,948) scale(0.87,1)" text-anchor="end" font-family="'Liberation Sans', Arial, sans-serif" font-weight="bold" font-size="20" fill="#e6e6e6" stroke="#000" stroke-width="2.6" paint-order="stroke">177</text>
<text transform="translate(1253.3,1445.5) scale(0.87,1)" text-anchor="end" font-family="'Liberation Sans', Arial, sans-serif" font-weight="bold" font-size="20" fill="#e6e6e6" stroke="#000" stroke-width="2.6" paint-order="stroke">0</text>
<text transform="translate(1127.6,1008.6) scale(0.83,1)" font-family="'Liberation Sans', Arial, sans-serif" font-size="58" fill="#fff" stroke="#fff" stroke-width="1.1">R</text>
<text transform="translate(1105.0,1281) scale(0.95,1)" font-family="'Liberation Sans', Arial, sans-serif" font-size="58" fill="#fff" stroke="#fff" stroke-width="1.1">nR</text>
<text x="990.9" y="1404.5" font-family="'Liberation Sans', Arial, sans-serif" font-size="45" fill="#fff" stroke="#fff" stroke-width="0.6">4</text>
</g>
<rect x="346.2" y="927.7" width="1.8" height="522.8" fill="#f4f4f4"/>
<rect x="957.8" y="927.7" width="2" height="522.8" fill="#f4f4f4"/>
</svg></body></html>
